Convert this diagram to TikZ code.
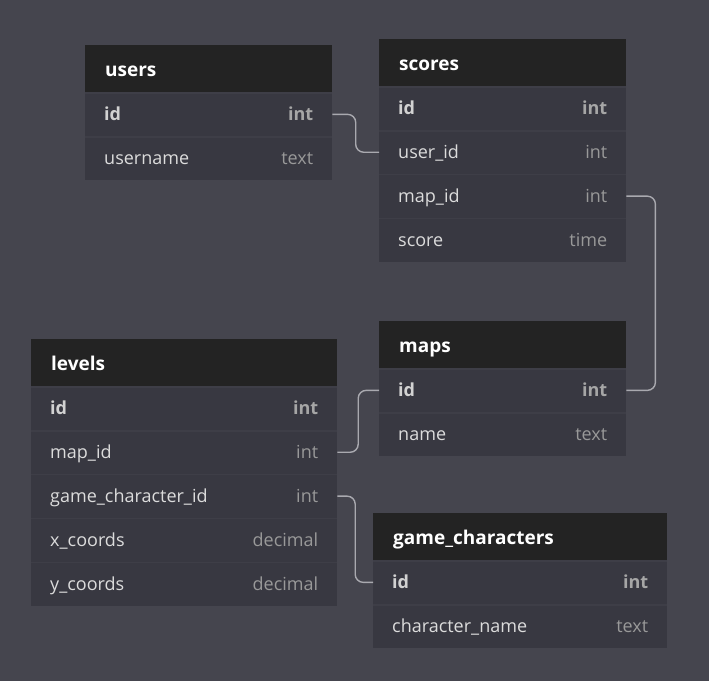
\documentclass[tikz,border=0pt]{standalone}
\usepackage{fontspec}
\setmainfont{Open Sans}
\usetikzlibrary{positioning,calc}

\definecolor{bgcol}{HTML}{45454E}
\definecolor{headcol}{HTML}{232323}
\definecolor{rowcol}{HTML}{383841}
\definecolor{sepcol}{HTML}{3E3E47}
\definecolor{namecol}{HTML}{DCDCDC}
\definecolor{keycol}{HTML}{D2D2D2}
\definecolor{typcol}{HTML}{999999}
\definecolor{keytypcol}{HTML}{A6A6A6}
\definecolor{linkcol}{HTML}{A9A9AF}

\tikzset{
  tblhead/.style={fill=headcol, text=white, anchor=north west,
    font=\fontsize{19}{23}\selectfont\bfseries,
    minimum height=47pt, inner xsep=20pt, inner ysep=0pt,
    text height=16pt, text depth=1pt, align=left},
  tblrow/.style={fill=rowcol, text=namecol,
    font=\fontsize{18}{21}\selectfont,
    minimum height=43.5pt, inner xsep=19pt, inner ysep=0pt,
    text height=15pt, text depth=2pt, align=left,
    path picture={\draw[sepcol, line width=2pt]
      (path picture bounding box.north west) -- (path picture bounding box.north east);}},
  link/.style={draw=linkcol, line width=1.4pt, rounded corners=8pt},
}

% one row of a table: name, node above, field, type
\newcommand{\tblrow}[4]{\node[tblrow, below=0pt of #2] (#1) {#3\hfill{\color{typcol}#4}};}
\newcommand{\tblkey}[3]{\node[tblrow, below=0pt of #2] (#1) {\bfseries\color{keycol}#3\hfill{\color{keytypcol}int}};}

\begin{document}
\begin{tikzpicture}[x=1pt, y=-1pt]
  \fill[bgcol] (0,0) rectangle (709,681);

  % users
  \begin{scope}[tblhead/.append style={text width=207pt}, tblrow/.append style={text width=209pt}]
    \node[tblhead] (users) at (85,45) {users};
    \tblkey{users-id}{users}{id}
    \tblrow{users-name}{users-id}{username}{text}
  \end{scope}

  % scores
  \begin{scope}[tblhead/.append style={text width=207pt}, tblrow/.append style={text width=209pt}]
    \node[tblhead] (scores) at (379,39) {scores};
    \tblkey{scores-id}{scores}{id}
    \tblrow{scores-uid}{scores-id}{user\_id}{int}
    \tblrow{scores-mid}{scores-uid}{map\_id}{int}
    \tblrow{scores-score}{scores-mid}{score}{time}
  \end{scope}

  % maps
  \begin{scope}[tblhead/.append style={text width=207pt}, tblrow/.append style={text width=209pt}]
    \node[tblhead] (maps) at (379,321) {maps};
    \tblkey{maps-id}{maps}{id}
    \tblrow{maps-name}{maps-id}{name}{text}
  \end{scope}

  % levels
  \begin{scope}[tblhead/.append style={text width=266pt}, tblrow/.append style={text width=268pt}]
    \node[tblhead] (levels) at (31,339) {levels};
    \tblkey{levels-id}{levels}{id}
    \tblrow{levels-mid}{levels-id}{map\_id}{int}
    \tblrow{levels-gcid}{levels-mid}{game\_character\_id}{int}
    \tblrow{levels-x}{levels-gcid}{x\_coords}{decimal}
    \tblrow{levels-y}{levels-x}{y\_coords}{decimal}
  \end{scope}

  % game_characters
  \begin{scope}[tblhead/.append style={text width=254pt}, tblrow/.append style={text width=256pt}]
    \node[tblhead] (chars) at (373,513) {game\_characters};
    \tblkey{chars-id}{chars}{id}
    \tblrow{chars-name}{chars-id}{character\_name}{text}
  \end{scope}

  % references
  \draw[link] (users-id.east) -| ($(users-id.east)!.5!(scores-uid.west)$) |- (scores-uid.west);
  \draw[link] (scores-mid.east) -- ++(29,0) |- (maps-id.east);
  \draw[link] (levels-mid.east) -| ($(levels-mid.east)!.5!(maps-id.west)$) |- (maps-id.west);
  \draw[link] (levels-gcid.east) -| ($(levels-gcid.east)!.5!(chars-id.west)$) |- (chars-id.west);
\end{tikzpicture}
\end{document}
